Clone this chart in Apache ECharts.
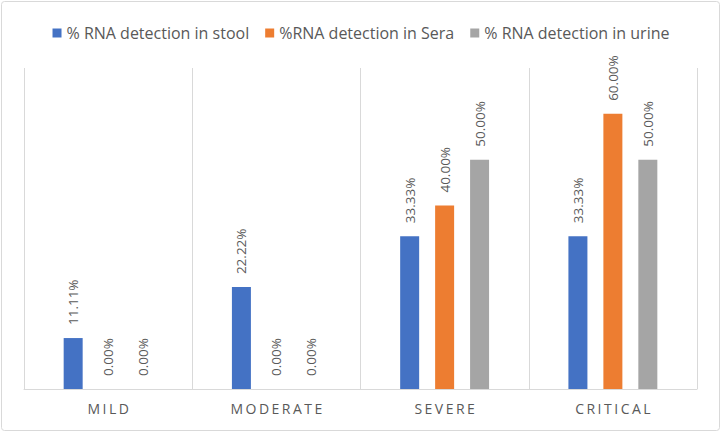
<!DOCTYPE html>
<html><head><meta charset="utf-8">
<script src="https://cdn.jsdelivr.net/npm/echarts@6/dist/echarts.min.js"></script>
<style>html,body{margin:0;padding:0;background:#fff}#c{width:722px;height:433px}</style>
</head><body><div id="c"></div>
<script>
const categories = ['MILD', 'MODERATE', 'SEVERE', 'CRITICAL'];
const seriesNames = ['% RNA detection in stool', '%RNA detection in Sera', '% RNA detection in urine'];
const stool = [11.11, 22.22, 33.33, 33.33];
const sera = [0.00, 0.00, 40.00, 60.00];
const urine = [0.00, 0.00, 50.00, 50.00];
const colors = ['#4472C4', '#ED7D31', '#A5A5A5'];
const FONT = 'Open Sans';

const chart = echarts.init(document.getElementById('c'), null, {renderer: 'svg'});
function mk(name, data, color) {
  return {
    name: name, type: 'bar', data: data, barWidth: 19, barGap: '84%',
    itemStyle: {color: color},
    label: {
      show: true, position: 'top', rotate: 90, distance: 13, align: 'left', verticalAlign: 'middle',
      color: '#595959', fontSize: 13.5, fontFamily: FONT,
      formatter: p => p.value.toFixed(2) + '%'
    }
  };
}
chart.setOption({
  animation: false,
  textStyle: {fontFamily: FONT},
  graphic: [{
    type: 'rect', shape: {x: 1.5, y: 1.5, width: 718, height: 429, r: 3},
    style: {fill: 'none', stroke: '#D9D9D9', lineWidth: 1}, silent: true, z: -1
  }],
  legend: {
    top: 20, left: 'center', itemWidth: 9, itemHeight: 9, itemGap: 16, icon: 'rect',
    textStyle: {color: '#595959', fontSize: 16, fontFamily: FONT},
    data: seriesNames
  },
  grid: {left: 24, right: 25, top: 68, bottom: 44, containLabel: false},
  xAxis: {
    type: 'category', data: categories,
    axisLine: {show: true, lineStyle: {color: '#D9D9D9'}},
    axisTick: {show: false},
    splitLine: {show: true, lineStyle: {color: '#D9D9D9'}},
    axisLabel: {color: '#595959', fontSize: 14, fontFamily: FONT, margin: 12}
  },
  yAxis: {
    type: 'value', min: 0, max: 70, interval: 10,
    show: false, splitLine: {show: false}
  },
  series: [mk(seriesNames[0], stool, colors[0]), mk(seriesNames[1], sera, colors[1]), mk(seriesNames[2], urine, colors[2])]
});
// Excel-style letter spacing on category labels
document.querySelectorAll('#c svg text').forEach(t => {
  if (categories.includes(t.textContent.trim())) {
    t.style.letterSpacing = '2.5px';
    t.setAttribute('dx', '1.25');
  }
});
</script></body></html>
